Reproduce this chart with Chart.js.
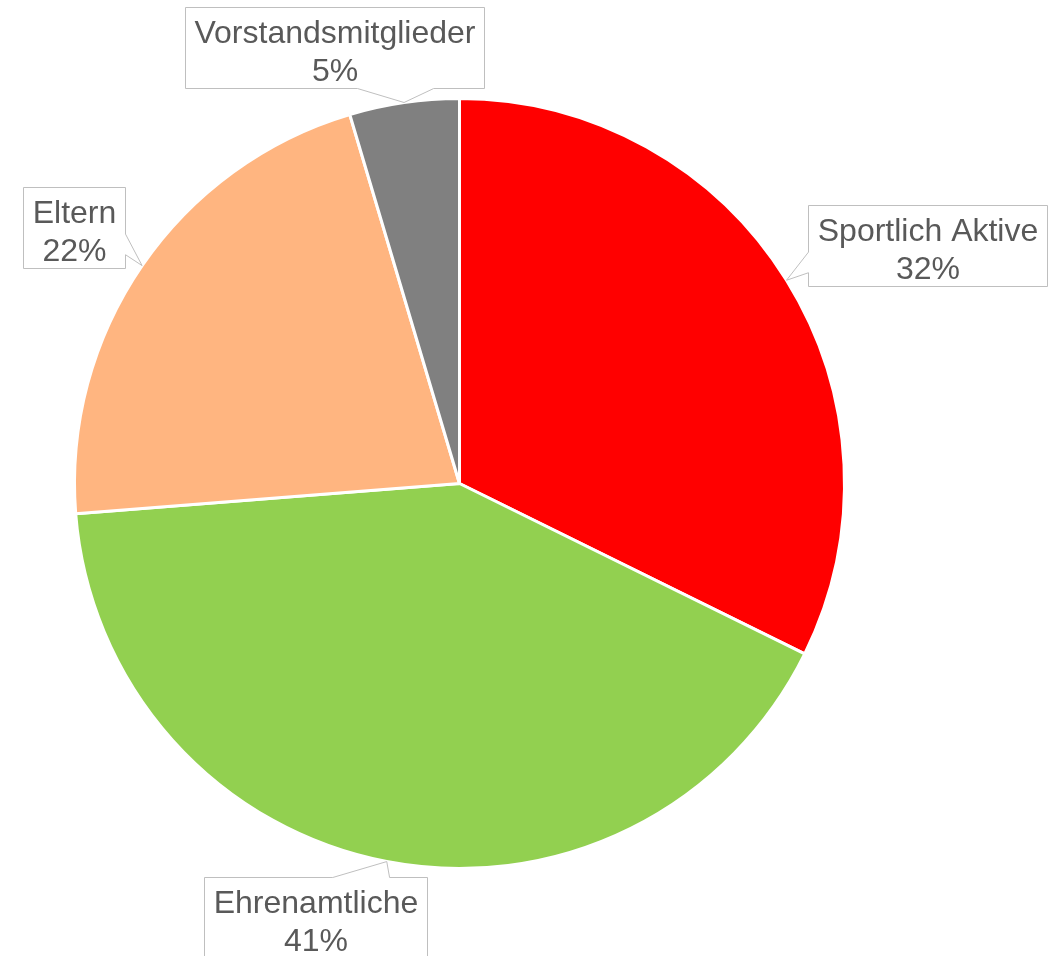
<!DOCTYPE html>
<html>
<head>
<meta charset="utf-8">
<script src="https://cdn.jsdelivr.net/npm/chart.js@4/dist/chart.umd.min.js"></script>
<style>
  html, body { margin: 0; padding: 0; background: #ffffff; }
  #wrap { width: 1053px; height: 956px; }
</style>
</head>
<body>
<div id="wrap"><canvas id="c" width="1053" height="956"></canvas></div>
<script>
const categories = ['Sportlich Aktive', 'Ehrenamtliche', 'Eltern', 'Vorstandsmitglieder'];
const shares = [32.3, 41.45, 21.65, 4.6];
const sliceColors = ['#FF0000', '#92D050', '#FFB580', '#808080'];

// callout box centre offsets from the slice's outer mid-point (layout only)
const calloutOffsets = [[141, -35], [-71, 56], [-68, -38], [-70, -55]];

const FONT = '32px "Liberation Sans", Arial, sans-serif';

const calloutPlugin = {
  id: 'callouts',
  afterDraw(chart) {
    const ctx = chart.ctx;
    const meta = chart.getDatasetMeta(0);
    const total = shares.reduce((a, b) => a + b, 0);
    ctx.save();
    ctx.font = FONT;
    meta.data.forEach((arc, i) => {
      const p = arc.getProps(['x', 'y', 'startAngle', 'endAngle', 'outerRadius'], true);
      const mid = (p.startAngle + p.endAngle) / 2;
      const tx = p.x + Math.cos(mid) * p.outerRadius;
      const ty = p.y + Math.sin(mid) * p.outerRadius;
      const lines = [categories[i], Math.round(shares[i] / total * 100) + '%'];
      const tw = Math.max(...lines.map(l => ctx.measureText(l).width));
      const w = Math.round(tw + 18);
      const h = 81;
      const cx = tx + calloutOffsets[i][0];
      const cy = ty + calloutOffsets[i][1];
      const L = Math.round(cx - w / 2) + 0.5, T = Math.round(cy - h / 2) + 0.5;
      const R = L + w, B = T + h;
      let edge;
      if (tx >= L && tx <= R) edge = ty < T ? 'top' : 'bottom';
      else edge = tx < L ? 'left' : 'right';
      const f1 = 0.575, f2 = 0.83;
      ctx.beginPath();
      ctx.moveTo(L, T);
      if (edge === 'top') { ctx.lineTo(L + w * f1, T); ctx.lineTo(tx, ty); ctx.lineTo(L + w * f2, T); }
      ctx.lineTo(R, T);
      if (edge === 'right') { ctx.lineTo(R, T + h * f1); ctx.lineTo(tx, ty); ctx.lineTo(R, T + h * f2); }
      ctx.lineTo(R, B);
      if (edge === 'bottom') { ctx.lineTo(L + w * f2, B); ctx.lineTo(tx, ty); ctx.lineTo(L + w * f1, B); }
      ctx.lineTo(L, B);
      if (edge === 'left') { ctx.lineTo(L, T + h * f2); ctx.lineTo(tx, ty); ctx.lineTo(L, T + h * f1); }
      ctx.closePath();
      ctx.fillStyle = '#ffffff';
      ctx.fill();
      ctx.strokeStyle = '#bfbfbf';
      ctx.lineWidth = 1;
      ctx.stroke();
      ctx.fillStyle = '#595959';
      ctx.textAlign = 'center';
      ctx.textBaseline = 'alphabetic';
      const mx = (L + R) / 2;
      ctx.fillText(lines[0], mx, T + 35);
      ctx.fillText(lines[1], mx, T + 73);
    });
    ctx.restore();
  }
};

new Chart(document.getElementById('c'), {
  type: 'pie',
  data: {
    labels: categories,
    datasets: [{
      data: shares,
      backgroundColor: sliceColors,
      borderColor: '#ffffff',
      borderWidth: 3
    }]
  },
  options: {
    responsive: false,
    animation: false,
    layout: { padding: { left: 73, right: 207, top: 97, bottom: 86 } },
    plugins: {
      legend: { display: false },
      tooltip: { enabled: false }
    }
  },
  plugins: [calloutPlugin]
});
</script>
</body>
</html>
